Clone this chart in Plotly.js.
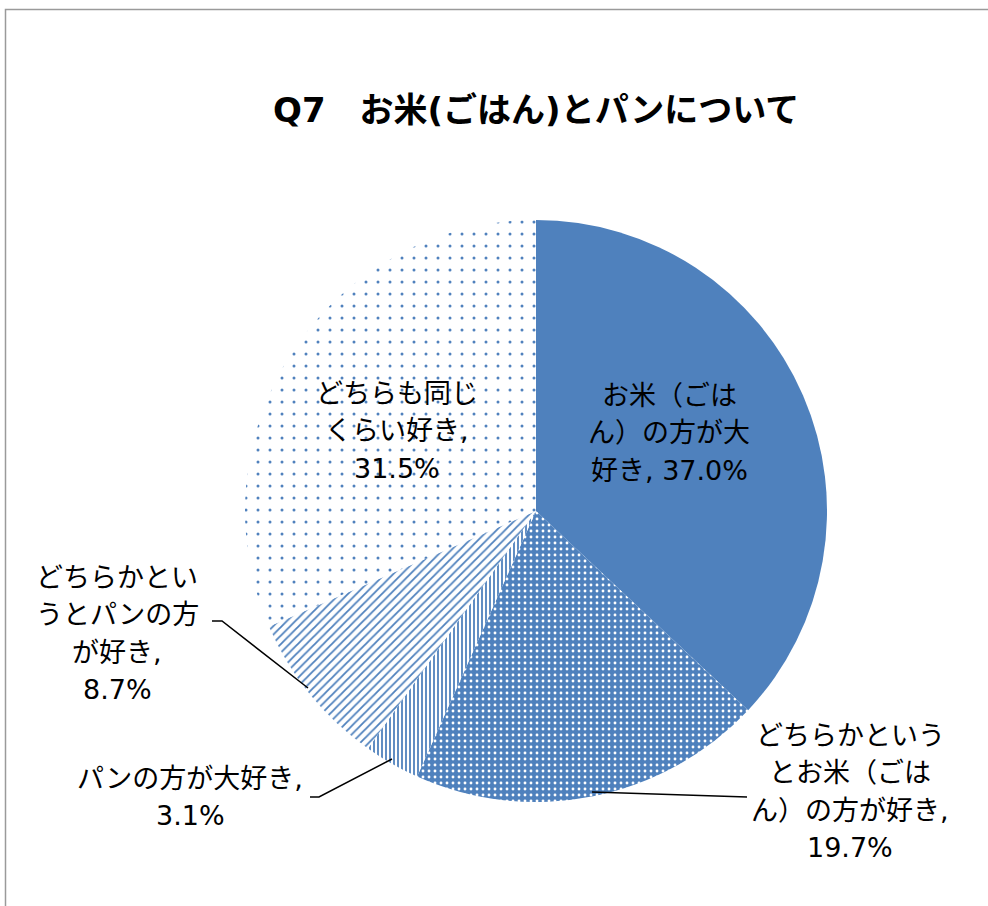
<!DOCTYPE html>
<html>
<head>
<meta charset="utf-8">
<script src="https://cdn.plot.ly/plotly-3.0.1.min.js"></script>
<style>html,body{margin:0;padding:0;background:#fff;}#chart{width:988px;height:906px;}</style>
</head>
<body>
<div id="chart"></div>
<script>
// ---- data ----
var chartTitle = "Q7　お米(ごはん)とパンについて";
var categories = [
  "お米（ごはん）の方が大好き",
  "どちらかというとお米（ごはん）の方が好き",
  "パンの方が大好き",
  "どちらかというとパンの方が好き",
  "どちらも同じくらい好き"
];
var values = [37.0, 19.7, 3.1, 8.7, 31.5];
// wrapped display lines of each label ({v} = value)
var wrappedLabels = [
  ["お米（ごは", "ん）の方が大", "好き, {v}"],
  ["どちらかという", "とお米（ごは", "ん）の方が好き,", "{v}"],
  ["パンの方が大好き,", "{v}"],
  ["どちらかとい", "うとパンの方", "が好き,", "{v}"],
  ["どちらも同じ", "くらい好き,", "{v}"]
];

// ---- layout helpers ----
var W = 988, H = 906;
function px(x){ return x / W; }
function py(y){ return 1 - y / H; }
var BLUE = "#4F81BD";
var FONT = "DejaVu Sans, Noto Sans CJK JP";

var cx = 536, cy = 511, R = 291;

var trace = {
  type: "pie",
  labels: categories,
  values: values,
  sort: false,
  direction: "clockwise",
  rotation: 0,
  textinfo: "none",
  hoverinfo: "label+percent",
  showlegend: false,
  domain: { x: [px(cx - R), px(cx + R)], y: [py(cy + R), py(cy - R)] },
  marker: {
    colors: [BLUE, BLUE, "#ffffff", "#ffffff", "#ffffff"],
    line: { width: 0 },
    pattern: {
      shape: ["", ".", "|", "/", "."],
      fgcolor: [BLUE, "#ffffff", BLUE, BLUE, BLUE],
      bgcolor: [BLUE, BLUE, "#ffffff", "#ffffff", "#ffffff"],
      size: [8, 6, 4, 6, 12],
      solidity: [0.3, 0.18, 0.45, 0.3, 0.05],
      fillmode: "replace"
    }
  }
};

// label positions (centre x, first line y) and leader lines
var labelPos = [
  { x: 669, y: 395 },
  { x: 850, y: 735 },
  { x: 190, y: 778 },
  { x: 117, y: 577 },
  { x: 397, y: 393 }
];
var lineGap = 37.5;
var leaders = [
  null,
  [[592, 792], [747, 797]],
  [[392, 759], [319, 797], [310, 797]],
  [[212, 621], [222, 621], [308, 688]],
  null
];

var annotations = [];
wrappedLabels.forEach(function(lines, i){
  var vtxt = values[i].toFixed(1) + "%";
  lines.forEach(function(l, j){
    annotations.push({
      xref: "paper", yref: "paper",
      x: px(labelPos[i].x), y: py(labelPos[i].y + j * lineGap),
      xanchor: "center", yanchor: "middle",
      text: l.replace("{v}", vtxt),
      showarrow: false,
      font: { family: FONT, size: 27, color: "#000" }
    });
  });
});
annotations.push({
  xref: "paper", yref: "paper",
  x: px(536), y: py(110), xanchor: "center", yanchor: "middle",
  text: "<b>" + chartTitle + "</b>", showarrow: false,
  font: { family: FONT, size: 34, color: "#000" }
});

var shapes = [{
  type: "rect", xref: "paper", yref: "paper",
  x0: px(5.5), y0: py(9.5), x1: px(1010), y1: py(930),
  line: { color: "#9a9a9a", width: 1.5 }, fillcolor: "rgba(0,0,0,0)"
}];
leaders.forEach(function(pts){
  if (!pts) return;
  var d = pts.map(function(p, k){ return (k ? "L" : "M") + px(p[0]) + "," + py(p[1]); }).join(" ");
  shapes.push({ type: "path", xref: "paper", yref: "paper", path: d,
    line: { color: "#000", width: 1.5 } });
});

var layout = {
  width: W, height: H,
  margin: { l: 0, r: 0, t: 0, b: 0 },
  paper_bgcolor: "#ffffff",
  plot_bgcolor: "#ffffff",
  font: { family: FONT },
  annotations: annotations,
  shapes: shapes
};

Plotly.newPlot("chart", [trace], layout, { displayModeBar: false, staticPlot: true });
</script>
</body>
</html>
